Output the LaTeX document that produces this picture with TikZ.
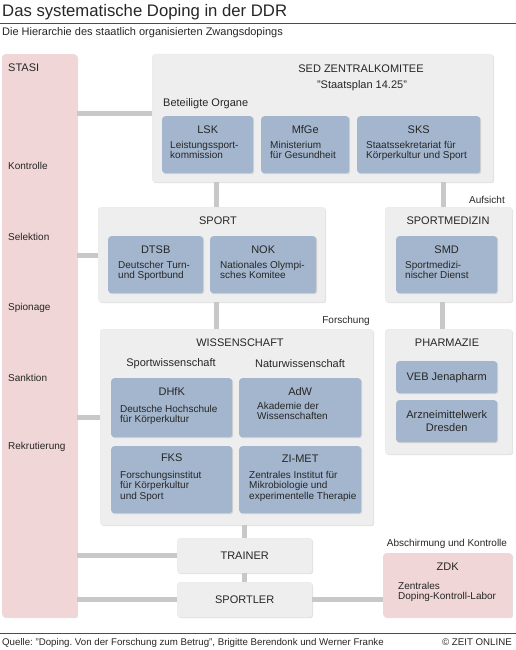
\documentclass[tikz,border=0pt]{standalone}
\usepackage{fontspec}
\setmainfont{Liberation Sans}
\frenchspacing
\usetikzlibrary{positioning,shadows}
\definecolor{boxgray}{HTML}{EEEEEE}
\definecolor{orgblue}{HTML}{A3B6CD}
\definecolor{stasipink}{HTML}{F0D6D6}
\definecolor{linkgray}{HTML}{C8C8C8}
\definecolor{ink}{HTML}{262626}
\tikzset{
  box/.style={rounded corners=3pt, anchor=north west, inner sep=0pt,
    drop shadow={shadow xshift=1pt, shadow yshift=-1pt, opacity=.25}},
  group/.style={box, draw=black!8, fill=boxgray},
  org/.style={box, fill=orgblue},
  stasibox/.style={box, fill=stasipink},
  head/.style={inner sep=0pt, font=\fontsize{11}{13}\selectfont},
  desc/.style={inner sep=0pt, align=left, font=\fontsize{10}{10.5}\selectfont},
  note/.style={inner sep=0pt, font=\fontsize{10}{12}\selectfont},
  link/.style={draw=linkgray, line width=5pt},
}
\begin{document}
\begin{tikzpicture}[x=1pt,y=-1pt,text=ink]
  \useasboundingbox (0,0) rectangle (516,650);

  % title
  \node[anchor=base west, inner sep=0pt, font=\fontsize{16.7}{20}\selectfont] (title) at (2,17) {Das systematische Doping in der DDR};
  \draw[black!70, line width=.8pt] (0,23) -- (516,23);
  \node[anchor=base west, inner sep=0pt, font=\fontsize{11}{13}\selectfont] (subtitle) at (2,36) {Die Hierarchie des staatlich organisierten Zwangsdopings};

  % stasi
  \node[stasibox, minimum width=75, minimum height=563] (stasi) at (2,54) {};
  \node[head, anchor=west] (stasi-t) at (8,68) {STASI};
  \node[note, anchor=west] (kontr) at (8,166) {Kontrolle};
  \node[note, anchor=west] (selek) at (8,237) {Selektion};
  \node[note, anchor=west] (spion) at (8,308) {Spionage};
  \node[note, anchor=west] (sankt) at (8,378) {Sanktion};
  \node[note, anchor=west] (rekru) at (8,447) {Rekrutierung};

  % sed
  \node[group, minimum width=341, minimum height=128] (sed) at (152,54) {};
  \node[head] (sed-t) at (361,69) {SED ZENTRALKOMITEE};
  \node[head] (plan) at (362,86) {"Staatsplan 14.25"};
  \node[head, anchor=west] (organe) at (163,104) {Beteiligte Organe};
  \node[org, minimum width=91, minimum height=57] (lsk) at (162,116) {};
  \node[org, minimum width=88, minimum height=57] (mfge) at (261,116) {};
  \node[org, minimum width=123, minimum height=57] (sks) at (357,116) {};
  \node[head] (lsk-t) at ([yshift=-14pt]lsk.north) {LSK};
  \node[head] (mfge-t) at ([yshift=-14pt]mfge.north) {MfGe};
  \node[head] (sks-t) at ([yshift=-14pt]sks.north) {SKS};
  \node[desc, below right=25pt and 8pt of lsk.north west] (lsk-d) {Leistungssport-\\kommission};
  \node[desc, below right=25pt and 9pt of mfge.north west] (mfge-d) {Ministerium\\für Gesundheit};
  \node[desc, below right=25pt and 9pt of sks.north west] (sks-d) {Staatssekretariat für\\Körperkultur und Sport};

  % sport
  \node[group, minimum width=227, minimum height=95] (sport) at (98,207) {};
  \node[head] (sport-t) at (218,221) {SPORT};
  \node[org, minimum width=95, minimum height=57] (dtsb) at (108,236) {};
  \node[org, minimum width=106, minimum height=57] (nok) at (210,236) {};
  \node[head] (dtsb-t) at ([yshift=-14pt]dtsb.north) {DTSB};
  \node[head] (nok-t) at ([yshift=-14pt]nok.north) {NOK};
  \node[desc, below right=25pt and 10pt of dtsb.north west] (dtsb-d) {Deutscher Turn-\\und Sportbund};
  \node[desc, below right=25pt and 10pt of nok.north west] (nok-d) {Nationales Olympi-\\sches Komitee};

  % sportmedizin
  \node[group, minimum width=127, minimum height=95] (smed) at (385,207) {};
  \node[head] (smed-t) at (448,221) {SPORTMEDIZIN};
  \node[org, minimum width=101, minimum height=57] (smd) at (396,236) {};
  \node[head] (smd-t) at ([yshift=-14pt]smd.north) {SMD};
  \node[desc, below right=25pt and 9pt of smd.north west] (smd-d) {Sportmedizi-\\nischer Dienst};
  \node[note, anchor=east] (aufsicht) at (505,200) {Aufsicht};

  % wissenschaft
  \node[group, minimum width=273, minimum height=196] (wiss) at (100,329) {};
  \node[head] (wiss-t) at (240,343) {WISSENSCHAFT};
  \node[head] (sportw) at (171,364) {Sportwissenschaft};
  \node[head] (naturw) at (300,364) {Naturwissenschaft};
  \node[org, minimum width=121, minimum height=59] (dhfk) at (111,378) {};
  \node[org, minimum width=122, minimum height=59] (adw) at (239,378) {};
  \node[org, minimum width=121, minimum height=67] (fks) at (111,446) {};
  \node[org, minimum width=122, minimum height=67] (zimet) at (239,446) {};
  \node[head] (dhfk-t) at ([yshift=-14pt]dhfk.north) {DHfK};
  \node[head] (adw-t) at ([yshift=-14pt]adw.north) {AdW};
  \node[head] (fks-t) at ([yshift=-12pt]fks.north) {FKS};
  \node[head] (zimet-t) at ([yshift=-13pt]zimet.north) {ZI-MET};
  \node[desc, below right=27pt and 9pt of dhfk.north west] (dhfk-d) {Deutsche Hochschule\\für Körperkultur};
  \node[desc, below right=24pt and 18pt of adw.north west] (adw-d) {Akademie der\\Wissenschaften};
  \node[desc, below right=25pt and 9pt of fks.north west] (fks-d) {Forschungsinstitut\\für Körperkultur\\und Sport};
  \node[desc, below right=25pt and 10pt of zimet.north west] (zimet-d) {Zentrales Institut für\\Mikrobiologie und\\experimentelle Therapie};
  \node[note] (forschung) at (346,321) {Forschung};

  % pharmazie
  \node[group, minimum width=127, minimum height=125] (pharma) at (385,329) {};
  \node[head] (pharma-t) at (447,343) {PHARMAZIE};
  \node[org, minimum width=101, minimum height=32, align=center, font=\fontsize{11}{13}\selectfont] (jena) at (396,361) {VEB Jenapharm};
  \node[org, minimum width=101, minimum height=42, align=center, font=\fontsize{11}{13}\selectfont] (awd) at (396,400) {Arzneimittelwerk\\Dresden};

  % trainer, sportler
  \node[group, minimum width=135, minimum height=35, font=\fontsize{11}{13}\selectfont] (trainer) at (177,538) {TRAINER};
  \node[group, minimum width=135, minimum height=35, font=\fontsize{11}{13}\selectfont] (sportler) at (177,582) {SPORTLER};

  % zdk
  \node[note] (abschirm) at (447,544) {Abschirmung und Kontrolle};
  \node[stasibox, minimum width=129, minimum height=64] (zdk) at (383,553) {};
  \node[head] (zdk-t) at ([yshift=-14pt]zdk.north) {ZDK};
  \node[desc, below right=29pt and 15pt of zdk.north west] (zdk-d) {Zentrales\\Doping-Kontroll-Labor};

  % connectors
  \draw[link] ([yshift=5pt]sed.west) -- ([yshift=5pt]sed.west -| stasi.east);
  \draw[link] ([yshift=-1pt]sport.west) -- ([yshift=-1pt]sport.west -| stasi.east);
  \draw[link] ([yshift=10pt]wiss.west) -- ([yshift=10pt]wiss.west -| stasi.east);
  \draw[link] (trainer.west) -- (trainer.west -| stasi.east);
  \draw[link] (sportler.west) -- (sportler.west -| stasi.east);
  \draw[link] (sportler.east) -- (sportler.east -| zdk.west);
  \draw[link] ([xshift=5pt]sport.north) -- ([xshift=5pt]sport.north |- sed.south);
  \draw[link] ([xshift=-5pt]smed.north) -- ([xshift=-5pt]smed.north |- sed.south);
  \draw[link] ([xshift=5pt]sport.south) -- ([xshift=5pt]sport.south |- wiss.north);
  \draw[link] ([xshift=-6pt]pharma.north) -- ([xshift=-6pt]pharma.north |- smed.south);
  \draw[link] (trainer.north) -- (trainer.north |- wiss.south);
  \draw[link] (trainer.south) -- (sportler.north);

  % footer
  \draw[black!70, line width=.8pt] (0,633) -- (516,633);
  \node[anchor=base west, inner sep=0pt, font=\fontsize{9.7}{12}\selectfont] (quelle) at (2,645) {Quelle: "Doping. Von der Forschung zum Betrug", Brigitte Berendonk und Werner Franke};
  \node[anchor=base east, inner sep=0pt, font=\fontsize{9.7}{12}\selectfont] (zeit) at (512,645) {© ZEIT ONLINE};
\end{tikzpicture}
\end{document}
